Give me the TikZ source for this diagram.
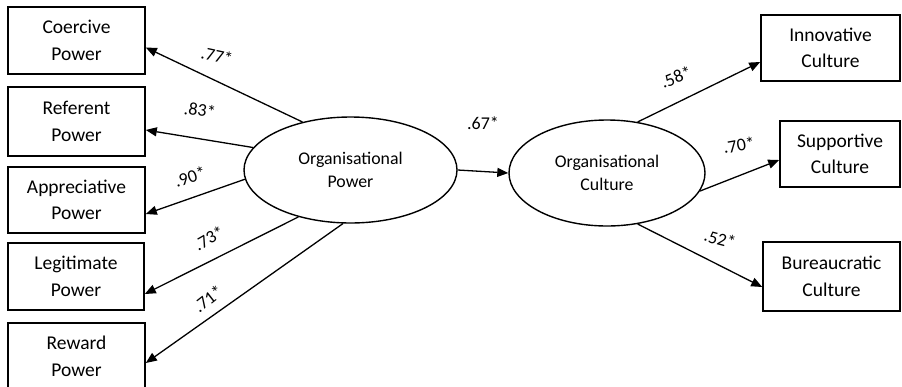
\documentclass[tikz,border=0pt]{standalone}
\usepackage{fontspec}
\setmainfont{Carlito}
\usetikzlibrary{arrows.meta,shapes.geometric}
\begin{document}
\begin{tikzpicture}[x=1pt,y=-1pt,
  box/.style={draw,line width=1.6pt,inner sep=0pt,align=center,
    font=\fontsize{19.5}{26.5}\selectfont},
  latent/.style={draw,ellipse,line width=1.4pt,inner sep=0pt,align=center,
    font=\fontsize{17.8}{23}\selectfont},
  load/.style={line width=1.3pt,-{Triangle[length=11pt,width=9pt]}},
  coef/.style={inner sep=0pt,font=\fontsize{18}{18}\selectfont}]
\useasboundingbox (0,0) rectangle (902,386);
\clip (0,0) rectangle (902,386);

% latent variables
\node[latent,minimum width=213pt,minimum height=106pt] (op) at (350.5,170) {Organisational\\Power};
\node[latent,minimum width=196pt,minimum height=106pt] (oc) at (607,173) {Organisational\\Culture};

% power indicators
\node[box,minimum width=137pt,minimum height=67pt] (coercive) at (76.5,40.5) {Coercive\\Power};
\node[box,minimum width=137pt,minimum height=69pt] (referent) at (76.5,121.5) {Referent\\Power};
\node[box,minimum width=137pt,minimum height=66pt] (appreciative) at (76.5,200) {Appreciative\\Power};
\node[box,minimum width=136pt,minimum height=67pt] (legitimate) at (76,276.5) {Legitimate\\Power};
\node[box,minimum width=137pt,minimum height=67pt] (reward) at (76.5,356.5) {Reward\\Power};

% culture indicators
\node[box,minimum width=139pt,minimum height=66pt] (innovative) at (830.5,48) {Innovative\\Culture};
\node[box,minimum width=120pt,minimum height=66pt] (supportive) at (840,154) {Supportive\\Culture};
\node[box,minimum width=137pt,minimum height=69pt] (bureaucratic) at (831.5,276.5) {Bureaucratic\\Culture};

% paths
\draw[load] (op.135) -- ([yshift=-7pt]coercive.east);
\draw[load] (op.167) -- ([yshift=-8.5pt]referent.east);
\draw[load] (op.185) -- ([yshift=-14pt]appreciative.east);
\draw[load] (op.222) -- ([yshift=-17.5pt]legitimate.east);
\draw[load] (op.262) -- ([yshift=-6.5pt]reward.east);
\draw[load] (op.east) -- (oc.west);
\draw[load] (oc.59) -- ([yshift=-14pt]innovative.west);
\draw[load] (oc.349) -- ([yshift=-6pt]supportive.west);
\draw[load] (oc.301) -- ([yshift=-10.5pt]bureaucratic.west);

% path coefficients
\node[coef,rotate=-12] (c77) at (217,56) {.77*};
\node[coef,rotate=-8] (c83) at (200,110) {.83*};
\node[coef,rotate=18] (c90) at (190,177) {.90*};
\node[coef,rotate=30] (c73) at (209,238) {.73*};
\node[coef,rotate=38] (c71) at (208,299) {.71*};
\node[coef] (c67) at (483,123) {.67*};
\node[coef,rotate=22] (c58) at (676,77) {.58*};
\node[coef,rotate=10] (c70) at (739,145) {.70*};
\node[coef,rotate=-15] (c52) at (720,239) {.52*};
\end{tikzpicture}
\end{document}
